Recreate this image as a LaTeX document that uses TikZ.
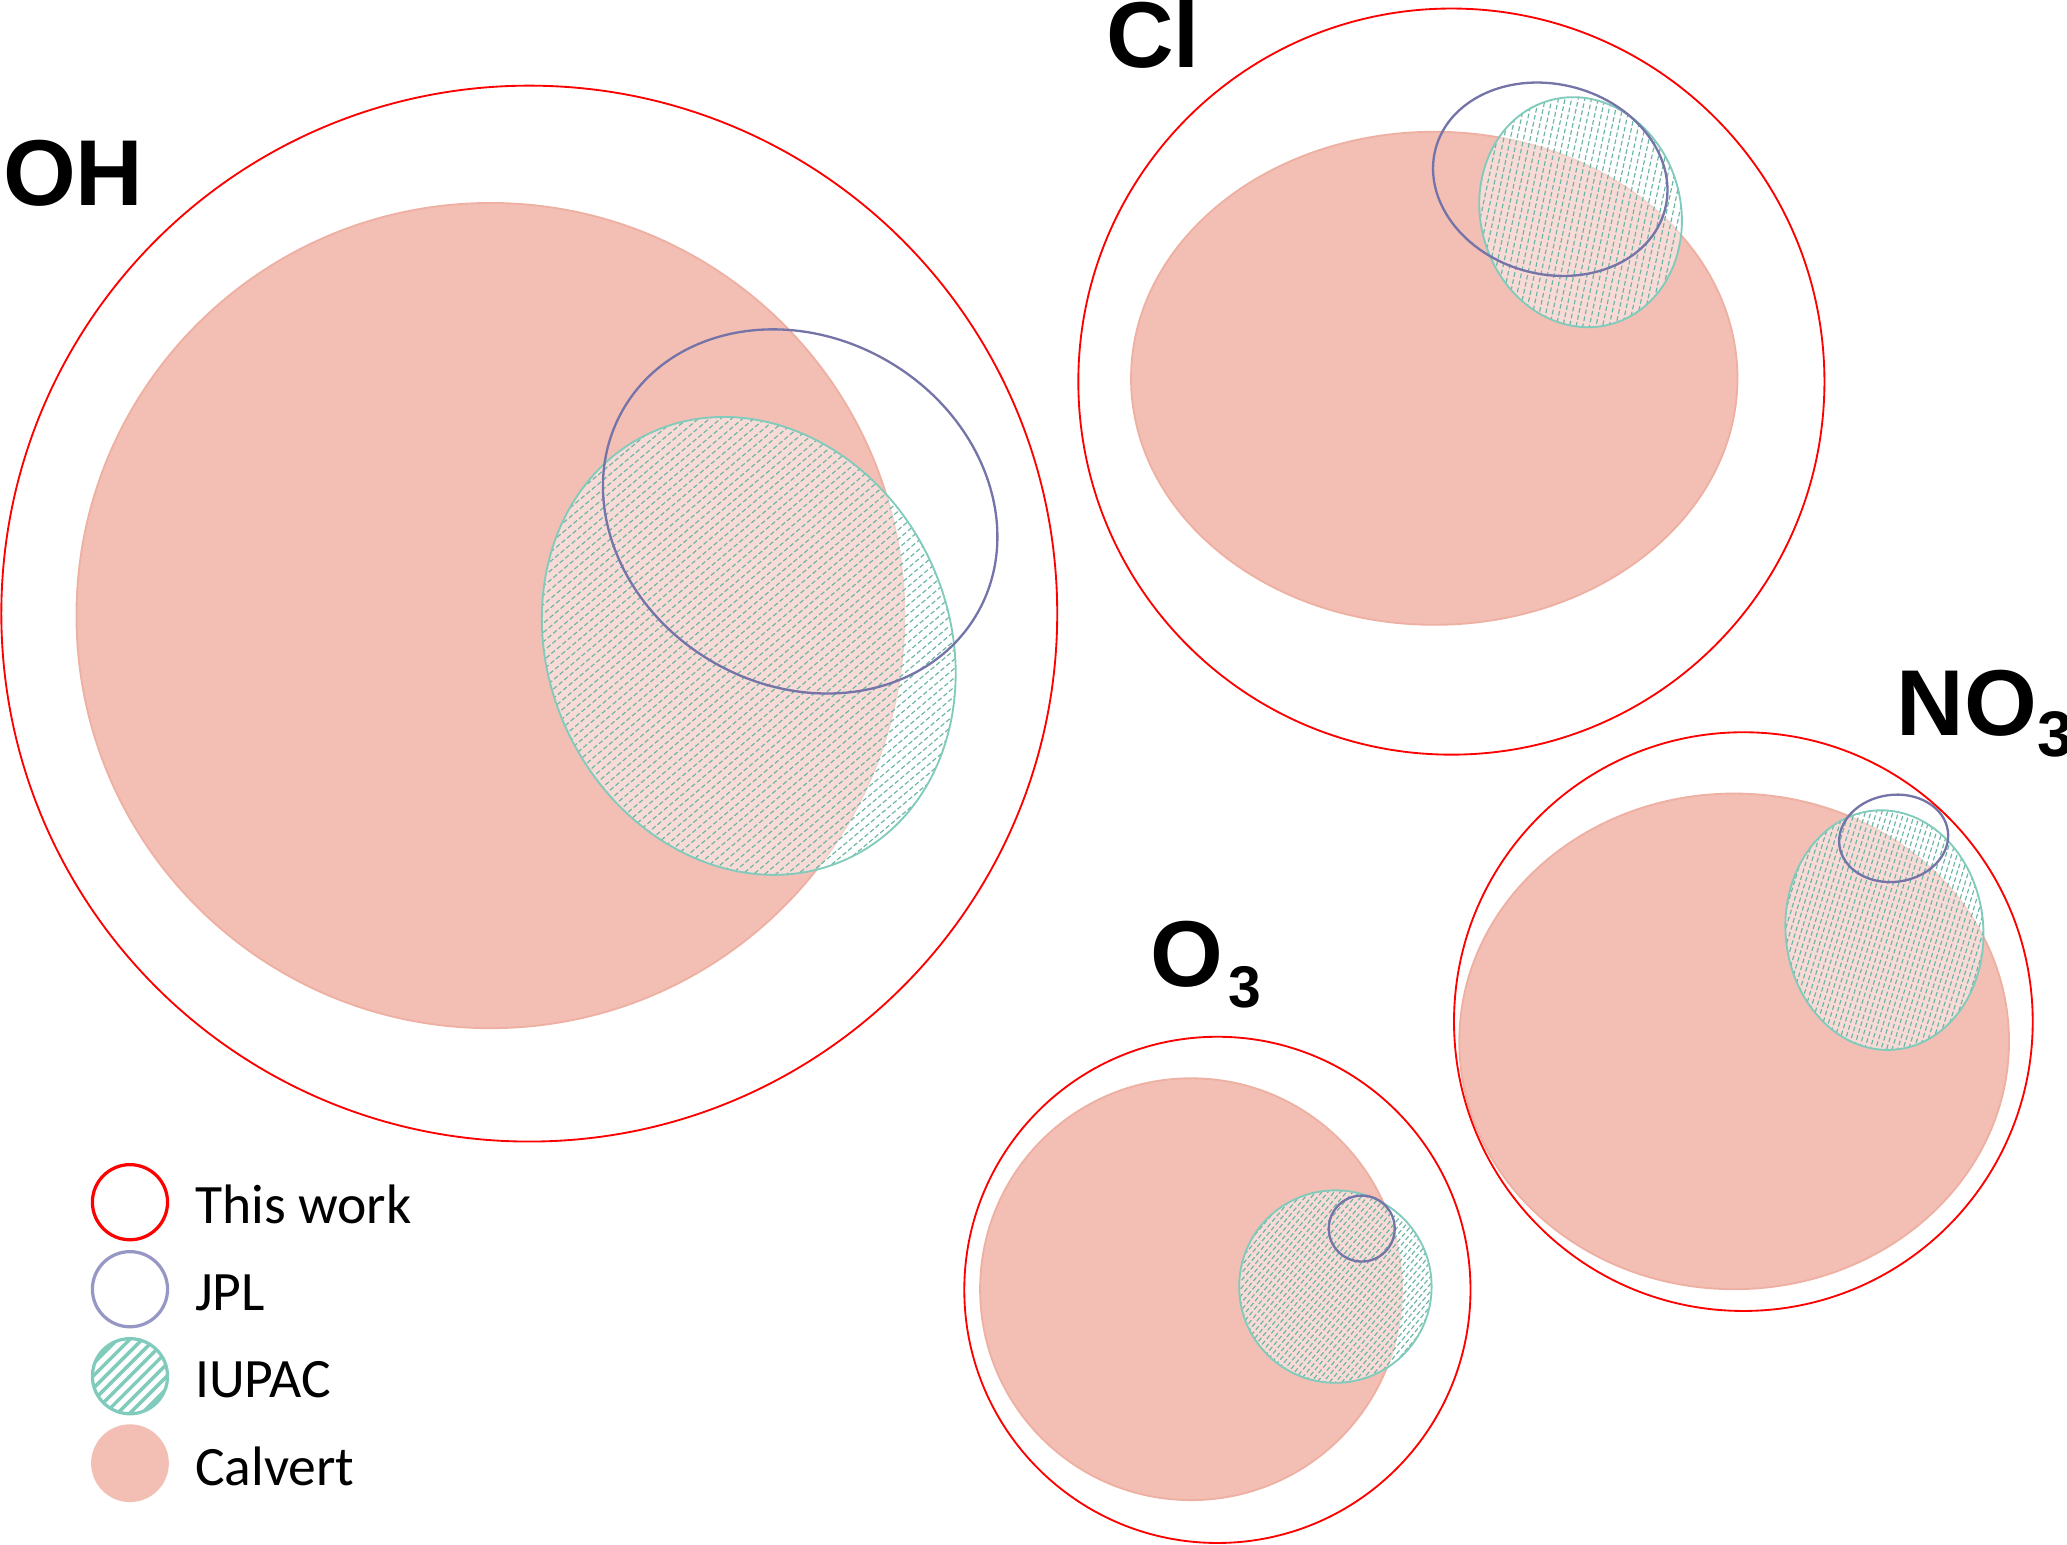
\documentclass[tikz,border=0pt]{standalone}
\usepackage{fontspec}
\setmainfont{Carlito}
\newfontfamily\lblfont{Liberation Sans}
\definecolor{calv}{HTML}{F3BFB5}
\definecolor{calvedge}{HTML}{EEB0A2}
\definecolor{jpl}{HTML}{7474A8}
\definecolor{jpllg}{HTML}{9797C6}
\definecolor{iup}{HTML}{80CBBB}
\definecolor{iuphatch}{HTML}{6BB5A6}
\tikzset{
  thiswork/.style={draw=red,line width=0.4pt},
  jplline/.style={draw=jpl,line width=0.5pt},
  calvfill/.style={fill=calv,draw=calvedge,line width=0.4pt},
  hatchline/.style={draw=iuphatch,line width=0.25pt,dash pattern=on 1.0pt off 0.55pt},
  lbl/.style={font=\lblfont\bfseries\fontsize{20.2}{24}\selectfont,inner sep=0pt,outer sep=0pt,anchor=base west},
  legtext/.style={font=\fontsize{12.0}{14}\selectfont,inner sep=0pt,outer sep=0pt,anchor=base west}
}
% #1 cx, #2 cy, #3 xr, #4 yr, #5 ellipse rotation, #6 hatch angle, #7 spacing
\newcommand{\iupacell}[7]{%
  \fill[white,opacity=0.45,rotate around={#5:(#1,#2)}] (#1,#2) ellipse [x radius=#3,y radius=#4];
  \begin{scope}
    \clip[rotate around={#5:(#1,#2)}] (#1,#2) ellipse [x radius=#3,y radius=#4];
    \begin{scope}[shift={(#1,#2)},rotate=#6]
      \foreach \k in {-50,...,50} \draw[hatchline] (-260,{\k*#7}) -- (260,{\k*#7});
    \end{scope}
  \end{scope}
  \draw[iup,line width=0.4pt,rotate around={#5:(#1,#2)}] (#1,#2) ellipse [x radius=#3,y radius=#4];
}
\begin{document}
\begin{tikzpicture}[x=0.1mm,y=0.1mm]
\useasboundingbox (0,0) rectangle (1568,1172);

% ---------- OH ----------
\fill[calvfill] (372,705) ellipse [x radius=314,y radius=313];
\iupacell{568}{682}{152}{178}{25}{40}{5.4}
\draw[jplline,rotate around={-30:(607,784)}] (607,784) ellipse [x radius=155,y radius=132];
\draw[thiswork] (401.5,706.5) circle (400.5);
\node[lbl] (lOH) at (2.3,1016) {OH};

% ---------- Cl ----------
\fill[calvfill] (1088,885) ellipse [x radius=230,y radius=187];
\iupacell{1199}{1011}{76}{88}{15}{78}{4.9}
\draw[jplline,rotate around={-15:(1176,1036)}] (1176,1036) ellipse [x radius=90,y radius=72];
\draw[thiswork] (1101,882.5) circle (283);
\node[lbl] (lCl) at (839,1120.7) {Cl};

% ---------- NO3 ----------
\fill[calvfill] (1315.5,382) ellipse [x radius=208.5,y radius=188];
\iupacell{1429.5}{466.4}{75}{91}{5}{73}{4.0}
\draw[jplline,rotate around={8:(1436.5,536)}] (1436.5,536) ellipse [x radius=41.5,y radius=33];
\draw[thiswork] (1322.5,397) circle (219.5);
\node[lbl] (lNO) at (1439,614) {NO\raisebox{-4.55pt}{\fontsize{13.9}{16}\selectfont 3}};

% ---------- O3 ----------
\fill[calvfill] (903.5,194) circle (160);
\iupacell{1013}{196}{73}{73}{0}{50}{3.6}
\draw[jplline] (1033,240) circle (25);
\draw[thiswork] (923.5,193.5) circle (192);
\node[lbl] (lO) at (873,424) {O\hspace{1pt}\raisebox{-4.55pt}{\fontsize{12.7}{15}\selectfont 3}};

% ---------- Legend ----------
\draw[red,line width=0.7pt] (98.6,260) circle (28.5);
\draw[jpllg,line width=0.7pt] (98.6,194) circle (28.5);
\begin{scope}
  \clip (98.6,128) circle (28.5);
  \begin{scope}[shift={(98.6,128)},rotate=45]
    \foreach \k in {-6,...,6} \draw[iup,line width=0.75pt] (-40,{\k*6.6}) -- (40,{\k*6.6});
  \end{scope}
\end{scope}
\draw[iup,line width=0.7pt] (98.6,128) circle (28.5);
\fill[calv] (98.6,62) circle (29.5);
\node[legtext] (tw) at (148,244) {This work};
\node[legtext] (tj) at (148,177.5) {JPL};
\node[legtext] (ti) at (148,112) {IUPAC};
\node[legtext] (tc) at (148,45.3) {Calvert};
\end{tikzpicture}
\end{document}
